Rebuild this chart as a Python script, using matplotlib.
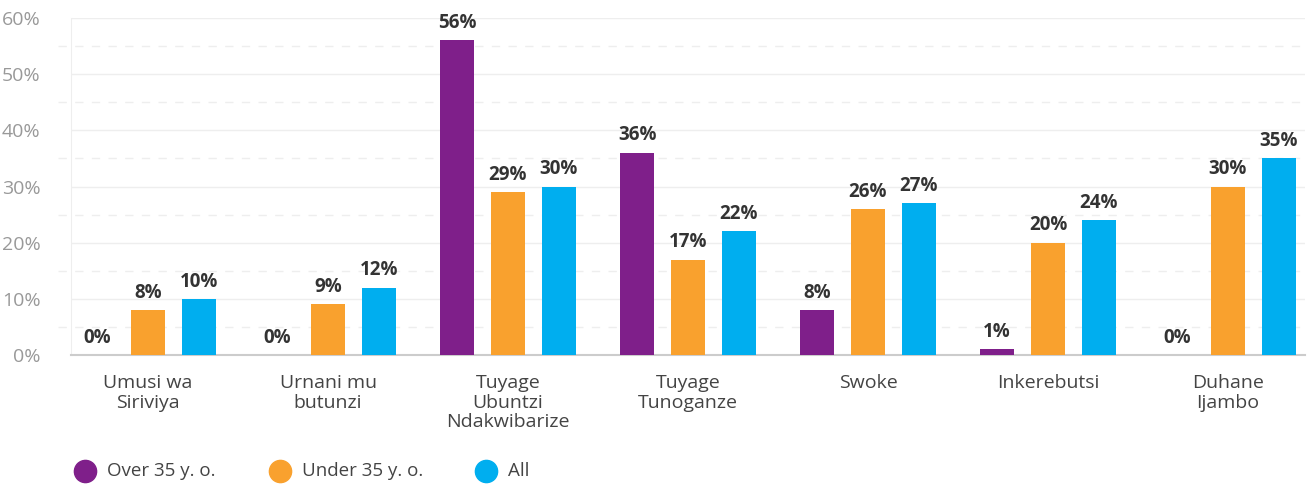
import matplotlib
matplotlib.use("Agg")
import matplotlib.pyplot as plt
from matplotlib.lines import Line2D
import numpy as np

categories = ["Umusi wa\nSiriviya", "Urnani mu\nbutunzi", "Tuyage\nUbuntzi\nNdakwibarize",
              "Tuyage\nTunoganze", "Swoke", "Inkerebutsi", "Duhane\nIjambo"]
over35 = [0, 0, 56, 36, 8, 1, 0]
under35 = [8, 9, 29, 17, 26, 20, 30]
all_vals = [10, 12, 30, 22, 27, 24, 35]
series_names = ["Over 35 y. o.", "Under 35 y. o.", "All"]
colors = ["#7F1F8A", "#F9A12E", "#00AEEF"]
yticks = [0, 10, 20, 30, 40, 50, 60]

plt.rcParams['font.family'] = ['Open Sans', 'DejaVu Sans']

W, H = 1309, 484
fig = plt.figure(figsize=(W/100, H/100), dpi=100)
ax = fig.add_axes([71/W, (H-355)/H, (1305-71)/W, (355-18)/H])

x = np.arange(len(categories))
bw = 0.19
off = 0.283
for i, (vals, c) in enumerate(zip([over35, under35, all_vals], colors)):
    xs = x + (i-1)*off
    ax.bar(xs, vals, width=bw, color=c, zorder=3)
    for xi, v in zip(xs, vals):
        ax.text(xi, v + 1.3, f"{v}%", ha='center', va='bottom', fontsize=13.5,
                fontweight='bold', color='#333333', zorder=4)

ax.set_xlim(-0.428, 6.428)
ax.set_ylim(0, 60)
ax.set_yticks(yticks)
ax.set_yticklabels([f"{t}%" for t in yticks], fontsize=14, color='#999999')
for t in yticks[1:]:
    ax.axhline(t, color='#eeeeee', lw=1, zorder=1)
for t in range(5, 60, 10):
    ax.plot([-0.5, 6.428], [t, t], color='#eeeeee', lw=1, ls=(0, (6, 6)), zorder=1, clip_on=False)
ax.tick_params(axis='y', length=0, pad=22)
ax.tick_params(axis='x', length=0, pad=14)
ax.set_xticks(x)
ax.set_xticklabels(categories, fontsize=14, color='#444444', linespacing=1.1)
for s in ['top', 'right']:
    ax.spines[s].set_visible(False)
ax.spines['left'].set_color('#eeeeee')
ax.spines['bottom'].set_color('#cccccc')
ax.spines['bottom'].set_linewidth(1.5)

# legend placed manually (fixed-position items)
leg_marker_x = [85, 280, 486]
leg_y = 471
for mx, name, c in zip(leg_marker_x, series_names, colors):
    fig.add_artist(Line2D([mx/W], [(H-leg_y)/H], marker='o', ls='', markersize=16,
                          color=c, transform=fig.transFigure))
    fig.text((mx+22)/W, (H-leg_y)/H, name, fontsize=13.5, color='#444444',
             ha='left', va='center')

fig.savefig("out.png", dpi=100, facecolor='white')
